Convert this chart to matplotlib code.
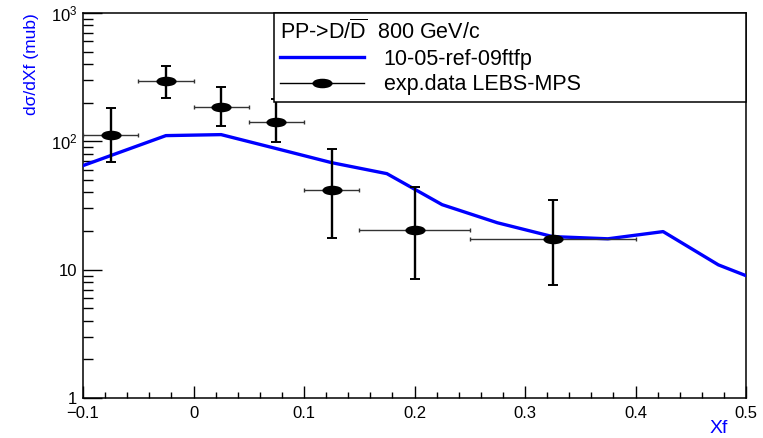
import matplotlib
matplotlib.use("Agg")
import matplotlib.pyplot as plt
from matplotlib.path import Path
from matplotlib.transforms import Affine2D
from matplotlib.lines import Line2D
from matplotlib.ticker import FixedLocator, FixedFormatter, LogLocator, MultipleLocator, NullFormatter

plt.rcParams['font.family'] = ['Liberation Sans', 'DejaVu Sans']
plt.rcParams['mathtext.fontset'] = 'custom'
plt.rcParams['mathtext.rm'] = 'Liberation Sans'
plt.rcParams['mathtext.it'] = 'Liberation Sans:italic'
plt.rcParams['mathtext.bf'] = 'Liberation Sans:bold'

# ---- data ----
model_x = [-0.1, -0.025, 0.025, 0.075, 0.125, 0.175, 0.225, 0.275, 0.325, 0.375, 0.425, 0.475, 0.5]
model_y = [64.7, 110.8, 112.8, 87.8, 68.2, 56.0, 32.1, 23.2, 18.1, 17.4, 19.8, 10.9, 8.98]

exp_x = [-0.075, -0.025, 0.025, 0.075, 0.125, 0.2, 0.325]
exp_y = [113, 297, 186, 142, 42, 20.5, 17.4]
exp_y_lo = [69.5, 219, 132, 98, 17.5, 8.5, 7.6]
exp_y_hi = [183, 389, 267, 215, 87.7, 44.4, 35.1]
exp_xerr = [0.025, 0.025, 0.025, 0.025, 0.025, 0.05, 0.075]

xtick_values = [-0.1, 0.0, 0.1, 0.2, 0.3, 0.4, 0.5]
xtick_labels = ['\u22120.1', '0', '0.1', '0.2', '0.3', '0.4', '0.5']
ytick_values = [1, 10, 100, 1000]
ytick_labels = ['1', '10', r'$10^{2}$', r'$10^{3}$']

header = r'PP->D/$\overline{\mathrm{D}}$  800 GeV/c'
model_label = '10-05-ref-09ftfp'
exp_label = 'exp.data LEBS-MPS'

# ---- figure ----
W, H = 763, 438
fig = plt.figure(figsize=(W / 100, H / 100), dpi=100)
ax = fig.add_axes([83 / W, 40 / H, 663 / W, 385 / H])

ellipse = Path.unit_circle().transformed(Affine2D().scale(2.3, 1.0))

ax.plot(model_x, model_y, color='#0000ff', lw=2.4, zorder=3, solid_joinstyle='round')

yerr_lo = [y - lo for y, lo in zip(exp_y, exp_y_lo)]
yerr_hi = [hi - y for y, hi in zip(exp_y, exp_y_hi)]
ax.errorbar(exp_x, exp_y, yerr=[yerr_lo, yerr_hi], fmt='none', ecolor='black',
            elinewidth=1.7, capsize=3.3, capthick=1.4, zorder=4)
ax.errorbar(exp_x, exp_y, xerr=exp_xerr, fmt='none', ecolor='#333333',
            elinewidth=1.0, capsize=1.6, capthick=1.0, zorder=4)
ax.plot(exp_x, exp_y, ls='none', marker=ellipse, ms=13.5, color='black', zorder=5)

ax.set_xlim(-0.1, 0.5)
ax.set_yscale('log')
ax.set_ylim(1, 1000)

ax.xaxis.set_major_locator(FixedLocator(xtick_values))
ax.xaxis.set_major_formatter(FixedFormatter(xtick_labels))
ax.xaxis.set_minor_locator(MultipleLocator(0.02))
ax.yaxis.set_major_locator(FixedLocator(ytick_values))
ax.yaxis.set_major_formatter(FixedFormatter(ytick_labels))
ax.yaxis.set_minor_locator(LogLocator(base=10, subs=[2, 3, 4, 5, 6, 7, 8, 9]))
ax.yaxis.set_minor_formatter(NullFormatter())

ax.tick_params(axis='x', which='major', direction='in', length=8.6, width=1.0, pad=6, labelsize=12, top=False)
ax.tick_params(axis='x', which='minor', direction='in', length=4.3, width=1.0, top=False)
ax.tick_params(axis='y', which='major', direction='in', length=14, width=1.0, pad=4, labelsize=12, right=False)
ax.tick_params(axis='y', which='minor', direction='in', length=7, width=1.0, right=False)
for s in ax.spines.values():
    s.set_linewidth(1.1)

ax.set_xlabel('Xf', color='#0000ff', fontsize=14, loc='right')
ax.xaxis.set_label_coords((728 - 83) / 663, -(420 - 398) / 385)
ax.set_ylabel('d\u03c3/dXf (mub)', color='#0000ff', fontsize=12.5, loc='top')
ax.yaxis.set_label_coords(-(83 - 39) / 663, 1.0)

handles = [Line2D([], [], color='#0000ff', lw=2.4),
           Line2D([], [], color='black', lw=1.0, marker=ellipse, ms=13.5)]
leg = ax.legend(handles, [model_label, exp_label], title=header,
                loc='upper left', bbox_to_anchor=(191 / 663, 0.0, 472 / 663, 1.0),
                mode='expand', borderaxespad=0, fontsize=15.5, title_fontsize=15.5,
                fancybox=False, framealpha=1, edgecolor='black',
                handlelength=3.9, handletextpad=0.9, borderpad=0.3,
                labelspacing=0.22, alignment='left')
leg.get_frame().set_linewidth(1.1)
leg.set_zorder(10)

fig.savefig('out.png', dpi=100)
